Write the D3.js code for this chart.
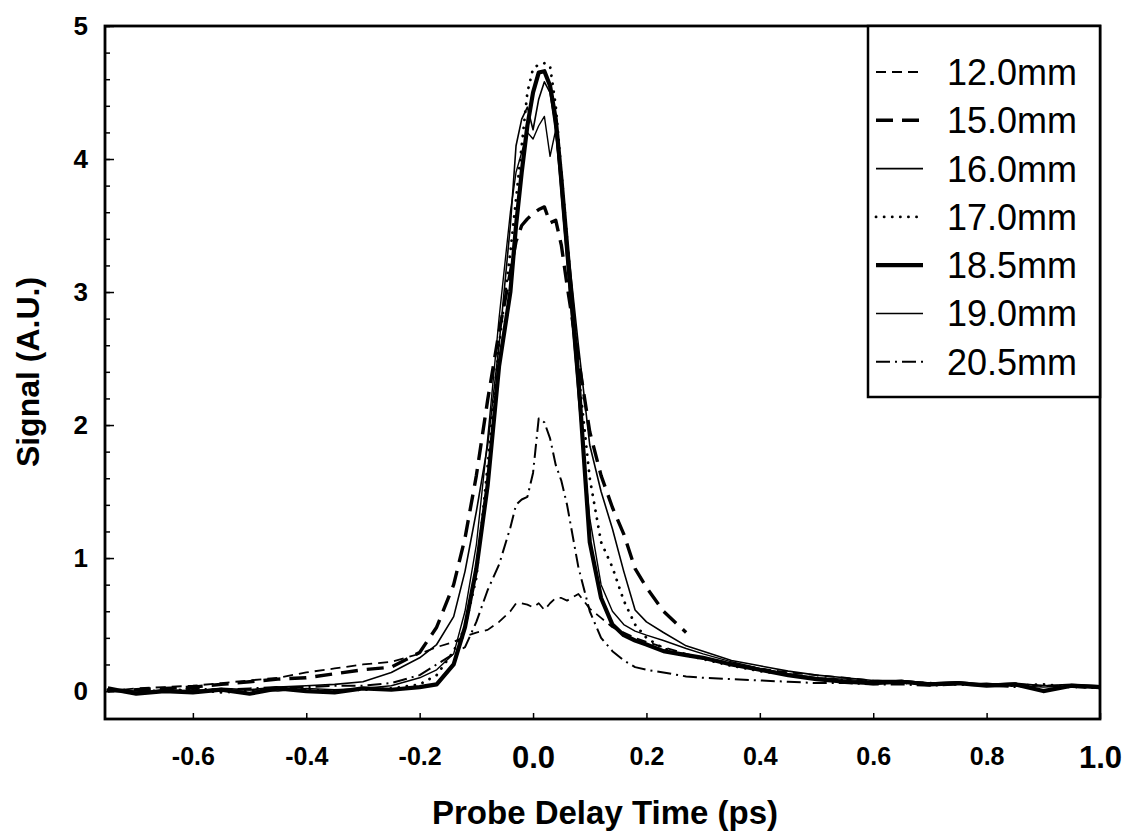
<!DOCTYPE html>
<html>
<head>
<meta charset="utf-8">
<script src="https://cdn.jsdelivr.net/npm/d3@7"></script>
<style>
  body { margin: 0; background: #fff; }
  svg { display: block; font-family: "Liberation Sans", Arial, sans-serif; }
</style>
</head>
<body>
<svg width="1127" height="838"></svg>
<script>
// probe delay (ps), shared by all runs
const delay = [-0.75, -0.70, -0.65, -0.60, -0.55, -0.50, -0.45, -0.40, -0.35, -0.30, -0.25, -0.20, -0.17, -0.14, -0.12,
  -0.10, -0.08, -0.06, -0.04, -0.03, -0.02, -0.01, 0.00, 0.01, 0.02, 0.03, 0.04, 0.05, 0.06, 0.08, 0.10,
  0.12, 0.14, 0.16, 0.18, 0.20, 0.23, 0.27, 0.30, 0.35, 0.40, 0.45, 0.50, 0.55, 0.60, 0.65, 0.70, 0.75,
  0.80, 0.85, 0.90, 0.95, 1.00];

const s120 = [0.00, 0.02, 0.03, 0.04, 0.06, 0.08, 0.10, 0.14, 0.17, 0.20, 0.22, 0.28, 0.33, 0.37, 0.41,
  0.44, 0.46, 0.52, 0.60, 0.66, 0.66, 0.65, 0.63, 0.66, 0.61, 0.66, 0.70, 0.70, 0.68, 0.73, 0.62,
  0.55, 0.48, 0.44, 0.40, 0.37, 0.33, 0.28, 0.25, 0.21, 0.17, 0.14, 0.12, 0.10, 0.08, 0.07, 0.06, 0.06,
  0.05, 0.05, 0.04, 0.04, 0.03];
const s150 = [0.00, 0.01, 0.02, 0.03, 0.05, 0.07, 0.09, 0.10, 0.13, 0.16, 0.18, 0.29, 0.48, 0.80, 1.15,
  1.62, 2.19, 2.70, 3.15, 3.38, 3.50, 3.55, 3.59, 3.62, 3.64, 3.52, 3.54, 3.35, 3.05, 2.50, 1.95,
  1.62, 1.38, 1.18, 0.92, 0.78, 0.60, 0.44, null, null, null, null, null, null, null, null, null, null,
  null, null, null, null, null];
const s160 = [0.00, -0.01, 0.01, 0.00, 0.02, 0.01, 0.03, 0.04, 0.05, 0.07, 0.14, 0.25, 0.35, 0.56, 0.90,
  1.35, 1.85, 2.60, 3.50, 4.10, 4.30, 4.39, 4.22, 4.45, 4.58, 4.50, 4.20, 3.80, 3.40, 2.60, 1.85,
  1.50, 1.22, 0.90, 0.61, 0.52, 0.44, 0.34, 0.30, 0.23, 0.19, 0.15, 0.12, 0.10, 0.08, 0.08, 0.06, 0.07,
  0.05, 0.06, 0.04, 0.05, 0.04];
const s170 = [0.01, -0.01, 0.00, 0.01, -0.01, 0.00, 0.02, 0.01, 0.00, 0.01, 0.02, 0.05, 0.12, 0.30, 0.48,
  0.85, 1.70, 2.60, 3.30, 3.70, 4.10, 4.50, 4.68, 4.71, 4.72, 4.70, 4.40, 3.90, 3.40, 2.40, 1.60,
  1.12, 0.93, 0.68, 0.50, 0.40, 0.32, 0.27, 0.24, 0.19, 0.15, 0.12, 0.10, 0.08, 0.07, 0.06, 0.06, 0.05,
  0.05, 0.04, 0.05, 0.03, 0.03];
const s185 = [0.02, -0.02, 0.00, -0.01, 0.01, -0.02, 0.02, 0.00, -0.01, 0.02, 0.01, 0.03, 0.05, 0.20, 0.48,
  0.92, 1.55, 2.44, 3.00, 3.50, 3.90, 4.25, 4.50, 4.65, 4.66, 4.55, 4.30, 3.85, 3.35, 2.35, 1.12,
  0.70, 0.50, 0.42, 0.38, 0.35, 0.30, 0.27, 0.25, 0.20, 0.16, 0.12, 0.09, 0.07, 0.06, 0.07, 0.05, 0.06,
  0.04, 0.05, 0.00, 0.04, 0.03];
const s190 = [0.01, 0.00, -0.01, 0.01, 0.00, 0.01, 0.00, 0.02, 0.01, 0.02, 0.04, 0.10, 0.16, 0.28, 0.60,
  1.10, 1.90, 2.80, 3.60, 3.90, 4.05, 4.20, 4.15, 4.25, 4.32, 4.02, 4.22, 3.70, 3.20, 2.20, 1.30,
  0.80, 0.60, 0.50, 0.45, 0.42, 0.38, 0.32, 0.28, 0.22, 0.17, 0.13, 0.10, 0.09, 0.07, 0.08, 0.06, 0.05,
  0.06, 0.04, 0.03, 0.04, 0.02];
const s205 = [0.00, 0.01, 0.00, 0.02, 0.01, 0.02, 0.03, 0.03, 0.04, 0.04, 0.06, 0.12, 0.20, 0.28, 0.33,
  0.52, 0.76, 0.95, 1.23, 1.40, 1.44, 1.46, 1.64, 2.05, 2.02, 1.90, 1.70, 1.58, 1.40, 0.93, 0.60,
  0.40, 0.30, 0.23, 0.18, 0.16, 0.14, 0.11, 0.10, 0.09, 0.08, 0.07, 0.06, 0.06, 0.05, 0.05, 0.04, 0.05,
  0.04, 0.03, 0.04, 0.03, 0.02];

const names = ["12.0mm", "15.0mm", "16.0mm", "17.0mm", "18.5mm", "19.0mm", "20.5mm"];
const xTicks = [-0.6, -0.4, -0.2, 0.0, 0.2, 0.4, 0.6, 0.8, 1.0];
const yTicks = [0, 1, 2, 3, 4, 5];

const series = [s120, s150, s160, s170, s185, s190, s205];
const styles = [
  { w: 1.8, dash: "10,6" },
  { w: 3.4, dash: "17,9" },
  { w: 1.6, dash: null },
  { w: 2.8, dash: "0.1,8", cap: "round" },
  { w: 4.2, dash: null },
  { w: 1.4, dash: null },
  { w: 2.0, dash: "14,5,2,5" }
];

const svg = d3.select('svg');
const margin = { left: 105, right: 1100, top: 26, bottom: 719 };

const x = d3.scaleLinear().domain([-0.755, 1.0]).range([margin.left, margin.right]);
const y = d3.scaleLinear().domain([-0.21, 5]).range([margin.bottom, margin.top]);

const line = d3.line()
  .defined(d => d[1] !== null)
  .x(d => x(d[0]))
  .y(d => y(d[1]));

const g = svg.append('g');

series.forEach((s, i) => {
  g.append('path')
    .datum(delay.map((t, j) => [t, s[j]]))
    .attr('fill', 'none')
    .attr('stroke', '#000')
    .attr('stroke-width', styles[i].w)
    .attr('stroke-dasharray', styles[i].dash)
    .attr('stroke-linecap', styles[i].cap || 'butt')
    .attr('stroke-linejoin', 'round')
    .attr('d', line);
});

// x axis, ticks pointing in
const xAxis = svg.append('g')
  .attr('transform', `translate(0,${margin.bottom})`)
  .call(d3.axisBottom(x).tickValues(xTicks).tickSizeInner(-6).tickSizeOuter(0)
    .tickFormat(d => d.toFixed(1)));
xAxis.select('.domain').remove();
xAxis.selectAll('line').attr('stroke-width', 1.5);
xAxis.selectAll('text')
  .attr('fill', '#000')
  .attr('font-weight', 'bold')
  .attr('font-size', d => (d === 0 || d === 1) ? 31 : 25)
  .attr('y', d => (d === 0 || d === 1) ? 49 : 46)
  .attr('dy', 0);

// y axis, minor ticks every 0.2
const yMinor = svg.append('g')
  .attr('transform', `translate(${margin.left},0)`)
  .call(d3.axisLeft(y).tickValues(d3.range(0, 5.01, 0.2)).tickSizeInner(-5).tickSizeOuter(0).tickFormat(''));
yMinor.select('.domain').remove();
yMinor.selectAll('line').attr('stroke-width', 1.5);

const yAxis = svg.append('g')
  .attr('transform', `translate(${margin.left},0)`)
  .call(d3.axisLeft(y).tickValues(yTicks).tickSizeInner(-9).tickSizeOuter(0).tickPadding(17)
    .tickFormat(d3.format('d')));
yAxis.select('.domain').remove();
yAxis.selectAll('line').attr('stroke-width', 1.5);
yAxis.selectAll('text')
  .attr('fill', '#000')
  .attr('font-weight', 'bold')
  .attr('font-size', 26);

svg.append('rect')
  .attr('x', margin.left).attr('y', margin.top)
  .attr('width', margin.right - margin.left).attr('height', margin.bottom - margin.top)
  .attr('fill', 'none').attr('stroke', '#000').attr('stroke-width', 2.8);

svg.append('text')
  .attr('x', 605).attr('y', 824)
  .attr('text-anchor', 'middle')
  .attr('font-weight', 'bold').attr('font-size', 33)
  .text('Probe Delay Time (ps)');

svg.append('text')
  .attr('transform', 'translate(39,372) rotate(-90)')
  .attr('text-anchor', 'middle')
  .attr('font-weight', 'bold').attr('font-size', 32)
  .text('Signal (A.U.)');

// legend
const lg = svg.append('g');
lg.append('rect')
  .attr('x', 868).attr('y', margin.top)
  .attr('width', margin.right - 868).attr('height', 397 - margin.top)
  .attr('fill', '#fff').attr('stroke', '#000').attr('stroke-width', 2.5);

names.forEach((n, i) => {
  const ly = 72 + i * 48.3;
  lg.append('line')
    .attr('x1', 876).attr('x2', 923).attr('y1', ly).attr('y2', ly)
    .attr('stroke', '#000')
    .attr('stroke-width', styles[i].w)
    .attr('stroke-dasharray', styles[i].dash)
    .attr('stroke-linecap', styles[i].cap || 'butt');
  lg.append('text')
    .attr('x', 947).attr('y', ly)
    .attr('dy', '0.36em')
    .attr('font-size', 36)
    .text(n);
});
</script>
</body>
</html>
